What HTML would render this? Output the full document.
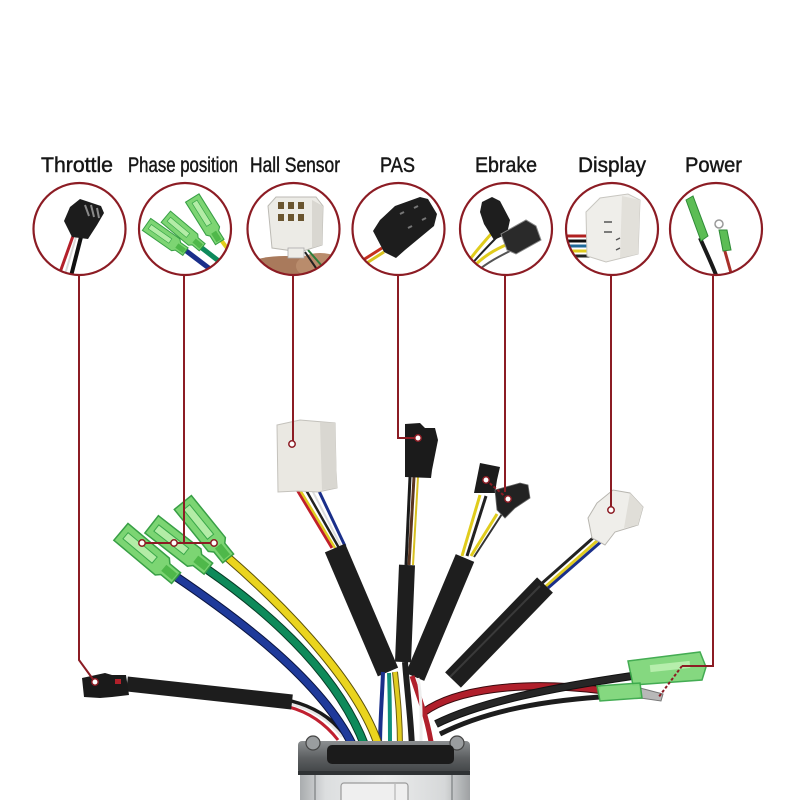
<!DOCTYPE html>
<html><head><meta charset="utf-8"><style>
html,body{margin:0;padding:0;background:#fff;}
svg{display:block;}
</style></head><body>
<svg width="800" height="800" viewBox="0 0 800 800" xmlns="http://www.w3.org/2000/svg">
<rect width="800" height="800" fill="#fff"/>
<defs>
 <clipPath id="c1"><circle cx="79.5" cy="229" r="46"/></clipPath>
 <clipPath id="c2"><circle cx="185" cy="229" r="46"/></clipPath>
 <clipPath id="c3"><circle cx="293.5" cy="229" r="46"/></clipPath>
 <clipPath id="c4"><circle cx="398.5" cy="229" r="46"/></clipPath>
 <clipPath id="c5"><circle cx="506" cy="229" r="46"/></clipPath>
 <clipPath id="c6"><circle cx="612" cy="229" r="46"/></clipPath>
 <clipPath id="c7"><circle cx="716" cy="229" r="46"/></clipPath>
 <linearGradient id="sil" x1="0" y1="0" x2="1" y2="0">
  <stop offset="0" stop-color="#a9acae"/>
  <stop offset="0.15" stop-color="#dcdedf"/>
  <stop offset="0.5" stop-color="#eceded"/>
  <stop offset="0.85" stop-color="#d6d8d9"/>
  <stop offset="1" stop-color="#9ea1a3"/>
 </linearGradient>
 <linearGradient id="fl" x1="0" y1="0" x2="0" y2="1">
  <stop offset="0" stop-color="#8c8f91"/>
  <stop offset="0.5" stop-color="#5d6062"/>
  <stop offset="1" stop-color="#3f4244"/>
 </linearGradient>
 <g id="spade">
  <path d="M-36,-11 L18,-11 L22,-7 L36,-7 L36,7 L22,7 L18,11 L-36,11 Z" fill="#76d36c" stroke="#2e9a3c" stroke-width="1.5" opacity="0.95"/>
  <rect x="-30" y="-4" width="38" height="8" fill="#b3eca6" stroke="#3aa84a" stroke-width="1"/>
  <rect x="20" y="-4" width="14" height="8" fill="#4fb84a"/>
 </g>
</defs>

<!-- Labels -->
<g font-family="Liberation Sans, Arial, sans-serif" font-size="21" fill="#161616" stroke="#161616" stroke-width="0.45">
 <text x="41" y="172" textLength="72" lengthAdjust="spacingAndGlyphs">Throttle</text>
 <text x="128" y="172" textLength="110" lengthAdjust="spacingAndGlyphs">Phase position</text>
 <text x="250" y="172" textLength="90" lengthAdjust="spacingAndGlyphs">Hall Sensor</text>
 <text x="380" y="172" textLength="35" lengthAdjust="spacingAndGlyphs">PAS</text>
 <text x="475" y="172" textLength="62" lengthAdjust="spacingAndGlyphs">Ebrake</text>
 <text x="578" y="172" textLength="68" lengthAdjust="spacingAndGlyphs">Display</text>
 <text x="685" y="172" textLength="57" lengthAdjust="spacingAndGlyphs">Power</text>
</g>

<!-- Circle contents -->
<g clip-path="url(#c1)">
 <path d="M73,236 L58,278" stroke="#b3202a" stroke-width="3" fill="none"/>
 <path d="M76,237 L64,278" stroke="#d8d8d8" stroke-width="2" fill="none"/>
 <path d="M81,237 L70,280" stroke="#111" stroke-width="4" fill="none"/>
 <polygon points="64,221 70,207 80,199 101,206 104,213 97,225 88,239 72,237" fill="#1c1c1c"/>
 <path d="M85,205 L89,216 M91,205 L94,217 M97,208 L99,218" stroke="#8a8a8a" stroke-width="2"/>
</g>
<g clip-path="url(#c2)">
 <path d="M185,250 L214,272" stroke="#1a2f8a" stroke-width="5" fill="none"/>
 <path d="M198,245 L220,262" stroke="#0e8a5c" stroke-width="5" fill="none"/>
 <path d="M218,236 L230,252" stroke="#e2cf1c" stroke-width="4" fill="none"/>
 <g transform="translate(206,220) rotate(58) scale(0.72)"><use href="#spade"/></g>
 <g transform="translate(184,232) rotate(40) scale(0.66)"><use href="#spade"/></g>
 <g transform="translate(166,238) rotate(35) scale(0.66)"><use href="#spade"/></g>
</g>
<g clip-path="url(#c3)">
 <ellipse cx="285" cy="284" rx="60" ry="28" fill="#a97a5c"/>
 <ellipse cx="320" cy="266" rx="24" ry="13" fill="#b98c6c"/>
 <path d="M308,250 L322,266" stroke="#2b7d3b" stroke-width="2"/>
 <path d="M305,252 L316,268" stroke="#222" stroke-width="2"/>
 <polygon points="268,206 276,197 316,197 323,206 322,245 300,252 272,248" fill="#ecebe6" stroke="#bcbab4" stroke-width="1"/>
 <polygon points="312,200 323,206 322,245 312,248" fill="#d9d7d1"/>
 <g fill="#6a5530">
  <rect x="278" y="202" width="6" height="7"/><rect x="288" y="202" width="6" height="7"/><rect x="298" y="202" width="6" height="7"/>
  <rect x="278" y="214" width="6" height="7"/><rect x="288" y="214" width="6" height="7"/><rect x="298" y="214" width="6" height="7"/>
 </g>
 <rect x="288" y="248" width="16" height="10" fill="#eeede8" stroke="#aaa" stroke-width="0.8"/>
</g>
<g clip-path="url(#c4)">
 <path d="M382,248 L360,262" stroke="#c43020" stroke-width="3"/>
 <path d="M384,252 L362,266" stroke="#d8c21c" stroke-width="3"/>
 <polygon points="373,231 380,220 395,206 420,197 428,199 437,214 434,226 405,250 396,258 384,252" fill="#1d1d1d"/>
 <path d="M400,214 L404,212 M414,208 L418,206 M408,228 L412,226 M422,220 L426,218" stroke="#777" stroke-width="2"/>
</g>
<g clip-path="url(#c5)">
 <path d="M468,262 C478,248 488,238 496,228" stroke="#e0cc1c" stroke-width="3" fill="none"/>
 <path d="M472,268 C484,256 494,250 508,244" stroke="#e0cc1c" stroke-width="3" fill="none"/>
 <path d="M470,266 C482,252 490,244 500,234" stroke="#222" stroke-width="2" fill="none"/>
 <path d="M476,272 C488,262 500,256 512,250" stroke="#555" stroke-width="2" fill="none"/>
 <polygon points="482,202 492,197 500,201 510,220 507,234 494,240 484,224 480,212" fill="#1e1e1e"/>
 <polygon points="501,234 526,220 536,226 541,240 516,254 507,250" fill="#2a2a2a" stroke="#888" stroke-width="1"/>
</g>
<g clip-path="url(#c6)">
 <path d="M560,236 L592,236" stroke="#b02020" stroke-width="3"/>
 <path d="M560,241 L592,241" stroke="#111" stroke-width="3"/>
 <path d="M560,246 L592,246" stroke="#1f6a9a" stroke-width="3"/>
 <path d="M560,251 L592,251" stroke="#e0cc20" stroke-width="3"/>
 <path d="M560,256 L592,256" stroke="#222" stroke-width="3"/>
 <polygon points="586,212 600,198 628,194 640,200 638,254 606,262 587,256" fill="#efeeea" stroke="#c8c6c0" stroke-width="1"/>
 <polygon points="622,196 640,200 638,254 620,258" fill="#e2e0da"/>
 <path d="M604,222 L612,222 M604,232 L612,232 M616,240 L620,238 M616,250 L620,248" stroke="#555" stroke-width="1.5"/>
</g>
<g clip-path="url(#c7)">
 <path d="M700,238 C706,252 712,264 718,280" stroke="#1a1a1a" stroke-width="4" fill="none"/>
 <path d="M724,248 L733,280" stroke="#a8302a" stroke-width="3" fill="none"/>
 <polygon points="686,200 693,196 708,236 701,241" fill="#5cbd55" stroke="#2e8a36" stroke-width="1"/>
 <circle cx="719" cy="224" r="4" fill="none" stroke="#999" stroke-width="1.5"/>
 <polygon points="719,230 727,230 731,250 723,251" fill="#5cbd55" stroke="#2e8a36" stroke-width="1"/>
</g>

<!-- Circles -->
<g fill="none" stroke="#8c1c24" stroke-width="2.2">
 <circle cx="79.5" cy="229" r="46"/>
 <circle cx="185" cy="229" r="46"/>
 <circle cx="293.5" cy="229" r="46"/>
 <circle cx="398.5" cy="229" r="46"/>
 <circle cx="506" cy="229" r="46"/>
 <circle cx="612" cy="229" r="46"/>
 <circle cx="716" cy="229" r="46"/>
</g>

<!-- Power wires -->
<path d="M424,712 C455,690 520,680 600,690" stroke="#3a0a0e" stroke-width="8" fill="none"/>
<path d="M424,712 C455,690 520,680 600,690" stroke="#b01f2b" stroke-width="6" fill="none"/>
<path d="M436,724 C480,702 550,688 632,676" stroke="#111" stroke-width="8" fill="none"/>
<path d="M436,724 C480,702 550,688 632,676" stroke="#262626" stroke-width="6" fill="none"/>
<path d="M440,734 C480,714 530,702 600,697" stroke="#1d1d1d" stroke-width="5" fill="none"/>
<!-- Power connectors -->
<polygon points="628,661 700,652 706,667 702,680 633,685" fill="#7fd67a" stroke="#3aa84a" stroke-width="1.5" opacity="0.95"/>
<rect x="650" y="663" width="40" height="7" fill="#b6eeac" transform="rotate(-6 670 666)"/>
<polygon points="640,688 663,694 661,701 640,698" fill="#b8b8b8" stroke="#777" stroke-width="1"/>
<polygon points="597,686 640,683 642,698 600,701" fill="#7fd67a" stroke="#3aa84a" stroke-width="1.5" opacity="0.95"/>

<!-- Display -->
<path d="M598,540 L544,588" stroke="#e0cc20" stroke-width="3"/>
<path d="M603,540 L548,588" stroke="#1a2f8a" stroke-width="3"/>
<path d="M593,538 L540,585" stroke="#222" stroke-width="3"/>
<path d="M545,585 L453,680" stroke="#1e1e1e" stroke-width="22"/>
<path d="M540,586 L450,677" stroke="#3a3a3a" stroke-width="2"/>
<polygon points="597,503 613,490 630,493 643,507 638,525 615,532 605,545 592,538 588,518" fill="#efeeea" stroke="#b8b6b0" stroke-width="1"/>
<polygon points="630,493 643,507 638,525 624,528" fill="#e0ded8"/>

<!-- Ebrake -->
<path d="M480,495 L462,556" stroke="#e0cc1c" stroke-width="3"/>
<path d="M486,496 L467,556" stroke="#222" stroke-width="3"/>
<path d="M497,514 L471,556" stroke="#e0cc1c" stroke-width="3"/>
<path d="M502,514 L474,557" stroke="#333" stroke-width="2"/>
<path d="M465,558 L415,677" stroke="#1e1e1e" stroke-width="20"/>
<polygon points="480,463 500,467 497,480 495,493 474,493 477,478" fill="#1c1c1c"/>
<polygon points="495,490 520,483 528,485 530,498 515,508 505,518 497,510" fill="#222" stroke="#666" stroke-width="0.8"/>

<!-- PAS -->
<path d="M410,477 L406,565" stroke="#1a1a1a" stroke-width="3"/>
<path d="M414,477 L409,565" stroke="#5a3520" stroke-width="3"/>
<path d="M418,477 L413,565" stroke="#d8c020" stroke-width="2"/>
<path d="M407,565 L403,662" stroke="#1e1e1e" stroke-width="16"/>
<polygon points="405,424 420,423 425,428 435,428 438,440 432,470 431,478 405,477" fill="#1b1b1b"/>

<!-- Hall -->
<path d="M296,488 L332,548" stroke="#c01f2a" stroke-width="3"/>
<path d="M300,490 L335,548" stroke="#e0cc20" stroke-width="2.5"/>
<path d="M306,490 L339,548" stroke="#222" stroke-width="2.5"/>
<path d="M312,490 L342,548" stroke="#ddd" stroke-width="2"/>
<path d="M318,489 L345,546" stroke="#1a2f8a" stroke-width="3"/>
<path d="M335,548 L388,672" stroke="#1e1e1e" stroke-width="22"/>
<polygon points="277,425 300,420 335,423 336,470 337,488 318,492 298,491 278,492" fill="#eae8e2" stroke="#c4c2bc" stroke-width="1"/>
<polygon points="320,422 335,423 337,488 322,490" fill="#d9d7d1"/>

<!-- Central small wires -->
<path d="M412,676 C420,700 428,720 432,748" stroke="#b01f2b" stroke-width="5" fill="none"/>
<path d="M418,678 C422,700 421,720 421,748" stroke="#eee" stroke-width="3" fill="none"/>
<path d="M405,662 C408,700 411,720 412,748" stroke="#1e1e1e" stroke-width="6" fill="none"/>
<path d="M395,672 C398,700 400,720 400,748" stroke="#6a5a10" stroke-width="6" fill="none"/>
<path d="M395,672 C398,700 400,720 400,748" stroke="#e0cc20" stroke-width="4" fill="none"/>
<path d="M389,673 C390,700 390,720 390,748" stroke="#10907a" stroke-width="4" fill="none"/>
<path d="M383,672 C382,700 380,720 380,748" stroke="#1a2f8a" stroke-width="4" fill="none"/>

<!-- Throttle -->
<path d="M290,701 C310,706 330,716 345,735" stroke="#1a1a1a" stroke-width="4" fill="none"/>
<path d="M291,704 C310,709 328,718 342,737" stroke="#e6e6e6" stroke-width="2.5" fill="none"/>
<path d="M289,707 C308,712 324,722 338,740" stroke="#c02030" stroke-width="3" fill="none"/>
<path d="M127,684 L292,702" stroke="#1d1d1d" stroke-width="15"/>
<polygon points="82,678 105,673 112,675 126,675 129,695 112,697 100,698 84,697" fill="#1a1a1a"/>
<rect x="115" y="679" width="6" height="5" fill="#b0202a"/>

<!-- Phase wires -->
<path d="M175,576 C240,620 320,680 352,744" stroke="#0a1440" stroke-width="9" fill="none"/>
<path d="M175,576 C240,620 320,680 352,744" stroke="#1f3a9a" stroke-width="7" fill="none"/>
<path d="M208,570 C280,620 340,680 365,746" stroke="#073a24" stroke-width="9" fill="none"/>
<path d="M208,570 C280,620 340,680 365,746" stroke="#0e8a5a" stroke-width="7" fill="none"/>
<path d="M226,556 C300,620 360,690 378,744" stroke="#5a500a" stroke-width="9" fill="none"/>
<path d="M226,556 C300,620 360,690 378,744" stroke="#ead41e" stroke-width="7" fill="none"/>
<g transform="translate(205.5,530.5) rotate(51)"><use href="#spade"/></g>
<g transform="translate(148.5,555) rotate(40)"><use href="#spade"/></g>
<g transform="translate(180,546.5) rotate(38)"><use href="#spade"/></g>

<!-- Controller box -->
<rect x="300" y="772" width="170" height="30" fill="url(#sil)"/>
<path d="M315,774 V800 M452,774 V800" stroke="#8a8d8f" stroke-width="1.5"/>
<rect x="341" y="783" width="67" height="22" rx="3" fill="#efefef" stroke="#9a9a9a" stroke-width="1.2"/>
<path d="M395,784 V800" stroke="#aaa" stroke-width="1"/>
<rect x="298" y="741" width="172" height="33" rx="4" fill="url(#fl)"/>
<rect x="298" y="771" width="172" height="4" fill="#2f3234"/>
<circle cx="313" cy="743" r="7" fill="#9a9d9f" stroke="#444" stroke-width="1.2"/>
<circle cx="457" cy="743" r="7" fill="#9a9d9f" stroke="#444" stroke-width="1.2"/>
<rect x="327" y="745" width="127" height="19" rx="5" fill="#1b1b1b"/>

<!-- Leader lines -->
<g fill="none" stroke="#8c1c24" stroke-width="2">
 <path d="M79,276 V660 L95,682"/>
 <path d="M184,276 V543"/>
 <path d="M142,543 H214"/>
 <path d="M293,276 V444"/>
 <path d="M398,276 V438 H418"/>
 <path d="M505,276 V492"/>
 <path d="M486,480 L508,499" stroke-dasharray="3,2"/>
 <path d="M611,276 V510"/>
 <path d="M713,276 V666 H682"/>
 <path d="M682,666 L658,698" stroke-dasharray="3,2"/>
</g>
<g fill="#fff" stroke="#8c1c24" stroke-width="1.5">
 <circle cx="95" cy="682" r="3.2"/>
 <circle cx="142" cy="543" r="3.2"/>
 <circle cx="174" cy="543" r="3.2"/>
 <circle cx="214" cy="543" r="3.2"/>
 <circle cx="292" cy="444" r="3.2"/>
 <circle cx="418" cy="438" r="3.2"/>
 <circle cx="486" cy="480" r="3.2"/>
 <circle cx="508" cy="499" r="3.2"/>
 <circle cx="611" cy="510" r="3.2"/>
</g>
</svg>
</body></html>
